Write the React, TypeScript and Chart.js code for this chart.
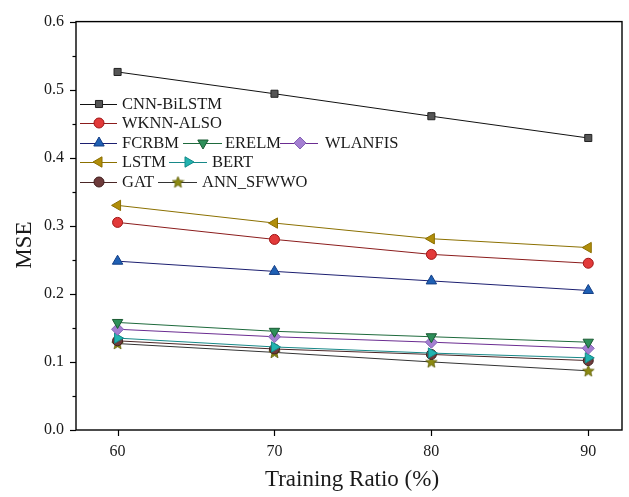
import React, { useEffect, useRef } from "react";
import { Chart, registerables } from "chart.js";
import { drawPoint } from "chart.js/helpers";

Chart.register(...registerables);

// ---------- data ----------
const ratios = [60, 70, 80, 90];
const cnnBiLstm = [0.526, 0.494, 0.461, 0.429];
const wknnAlso = [0.305, 0.280, 0.258, 0.245];
const fcrbm = [0.248, 0.233, 0.219, 0.205];
const erelm = [0.158, 0.145, 0.137, 0.129];
const wlanfis = [0.148, 0.137, 0.129, 0.120];
const lstm = [0.330, 0.304, 0.281, 0.268];
const bert = [0.135, 0.122, 0.113, 0.106];
const gat = [0.131, 0.119, 0.111, 0.102];
const annSfwwo = [0.127, 0.114, 0.100, 0.087];
const xTickValues = [60, 70, 80, 90];
const yMajorTicks = [0, 0.1, 0.2, 0.3, 0.4, 0.5, 0.6];
const seriesNames = [
  "CNN-BiLSTM",
  "WKNN-ALSO",
  "FCRBM",
  "ERELM",
  "WLANFIS",
  "LSTM",
  "BERT",
  "GAT",
  "ANN_SFWWO",
];
const xTitle = "Training Ratio (%)";
const yTitle = "MSE";

const FONT = "'Liberation Serif', 'Times New Roman', serif";

function makeStar(fill: string, stroke: string): HTMLCanvasElement {
  const c = document.createElement("canvas");
  c.width = 13;
  c.height = 13;
  const ctx = c.getContext("2d")!;
  const cx = 6.5, cy = 7, R = 6, r = 2.6;
  ctx.beginPath();
  for (let i = 0; i < 10; i++) {
    const a = -Math.PI / 2 + (i * Math.PI) / 5;
    const rad = i % 2 === 0 ? R : r;
    const px = cx + rad * Math.cos(a);
    const py = cy + rad * Math.sin(a);
    if (i === 0) ctx.moveTo(px, py);
    else ctx.lineTo(px, py);
  }
  ctx.closePath();
  ctx.fillStyle = fill;
  ctx.fill();
  ctx.lineWidth = 0.8;
  ctx.strokeStyle = stroke;
  ctx.stroke();
  return c;
}

export default function App() {
  const ref = useRef<HTMLCanvasElement | null>(null);

  useEffect(() => {
    if (!ref.current) return;
    const star = makeStar("#8c8a12", "#5a5a00");

    const styles = [
      { line: "#111111", fill: "#555555", border: "#222222", style: "rect", rot: 0, r: 5 },
      { line: "#8b1c1c", fill: "#e23a3a", border: "#a01515", style: "circle", rot: 0, r: 5 },
      { line: "#1c1f70", fill: "#1f60b4", border: "#123d85", style: "triangle", rot: 0, r: 6 },
      { line: "#1e6a3c", fill: "#2e8f5a", border: "#1a5a32", style: "triangle", rot: 180, r: 6 },
      { line: "#6a2c91", fill: "#a47fd2", border: "#8462b4", style: "rectRot", rot: 0, r: 6 },
      { line: "#8b7000", fill: "#b18e0a", border: "#8a6e00", style: "triangle", rot: 270, r: 6 },
      { line: "#178888", fill: "#22b3b0", border: "#148a88", style: "triangle", rot: 90, r: 6 },
      { line: "#4a2626", fill: "#6e3b3b", border: "#3e1c1c", style: "circle", rot: 0, r: 5 },
      { line: "#333333", fill: "#8c8a12", border: "#5a5a00", style: star as any, rot: 0, r: 6 },
    ];
    const values = [cnnBiLstm, wknnAlso, fcrbm, erelm, wlanfis, lstm, bert, gat, annSfwwo];

    const datasets = values.map((vals, i) => ({
      label: seriesNames[i],
      data: ratios.map((x, j) => ({ x, y: vals[j] })),
      borderColor: styles[i].line,
      borderWidth: 1,
      backgroundColor: styles[i].fill,
      pointBackgroundColor: styles[i].fill,
      pointBorderColor: styles[i].border,
      pointBorderWidth: 1,
      pointStyle: styles[i].style,
      pointRotation: styles[i].rot,
      pointRadius: styles[i].r,
      tension: 0,
      clip: false as any,
    }));

    // legend layout: [row y, lineStart, markerX, lineEnd, textX]
    const legendLayout = [
      [104, 80, 99, 117, 122],
      [123, 80, 99, 117, 122],
      [143, 80, 99, 117, 122],
      [143, 183, 203, 222, 225],
      [143, 280, 300, 318, 325],
      [162, 80, 99, 117, 122],
      [162, 169, 188, 207, 212],
      [182, 80, 99, 117, 122],
      [182, 158, 178, 197, 202],
    ];

    const decor = {
      id: "decor",
      afterDraw(chart: any) {
        const ctx = chart.ctx as CanvasRenderingContext2D;
        const ca = chart.chartArea;
        const ys = chart.scales.y;
        const xs = chart.scales.x;
        ctx.save();
        // frame
        ctx.strokeStyle = "#000";
        ctx.lineWidth = 1.4;
        ctx.strokeRect(ca.left, ca.top, ca.right - ca.left, ca.bottom - ca.top);
        // y ticks (major + minor)
        ctx.lineWidth = 1.2;
        for (let k = 0; k <= 12; k++) {
          const v = k * 0.05;
          const py = Math.round(ys.getPixelForValue(v)) + 0.5;
          const len = k % 2 === 0 ? 6 : 3.5;
          ctx.beginPath();
          ctx.moveTo(ca.left, py);
          ctx.lineTo(ca.left - len, py);
          ctx.stroke();
        }
        // x ticks
        xTickValues.forEach((v) => {
          const px = Math.round(xs.getPixelForValue(v)) + 0.5;
          ctx.beginPath();
          ctx.moveTo(px, ca.bottom);
          ctx.lineTo(px, ca.bottom + 6);
          ctx.stroke();
        });
        // titles
        ctx.fillStyle = "#1a1a1a";
        ctx.font = `23px ${FONT}`;
        ctx.textAlign = "center";
        ctx.textBaseline = "middle";
        ctx.fillText(xTitle, (ca.left + ca.right) / 2 + 3, 480);
        ctx.save();
        ctx.translate(25, 245);
        ctx.rotate(-Math.PI / 2);
        ctx.fillText(yTitle, 0, 0);
        ctx.restore();
        // legend
        ctx.font = `16.5px ${FONT}`;
        ctx.textAlign = "left";
        ctx.textBaseline = "middle";
        legendLayout.forEach((L, i) => {
          const [y, x0, xm, x1, xt] = L;
          const st = styles[i];
          ctx.strokeStyle = st.line;
          ctx.lineWidth = 1;
          ctx.beginPath();
          ctx.moveTo(x0, y + 0.5);
          ctx.lineTo(x1, y + 0.5);
          ctx.stroke();
          ctx.fillStyle = st.fill;
          ctx.strokeStyle = st.border;
          ctx.lineWidth = 1;
          drawPoint(ctx, { pointStyle: st.style, rotation: st.rot, radius: st.r, borderWidth: 1 } as any, xm, y);
          ctx.fillStyle = "#1a1a1a";
          ctx.fillText(seriesNames[i], xt, y + 1);
        });
        ctx.restore();
      },
    };

    const chart = new Chart(ref.current, {
      type: "line",
      data: { datasets },
      options: {
        animation: false,
        responsive: true,
        maintainAspectRatio: false,
        layout: { padding: { left: 0, top: 18, right: 7, bottom: 0 } },
        plugins: { legend: { display: false }, tooltip: { enabled: false } },
        scales: {
          x: {
            type: "linear",
            min: 57.35,
            max: 92.15,
            afterBuildTicks: (s: any) => {
              s.ticks = xTickValues.map((v) => ({ value: v }));
            },
            afterFit: (s: any) => {
              s.height = 67;
            },
            grid: { display: true, drawOnChartArea: false, drawTicks: false },
            border: { display: false },
            ticks: {
              padding: 12,
              color: "#1a1a1a",
              font: { family: FONT, size: 16 },
              maxRotation: 0,
              callback: (v: any) => String(v),
            },
          },
          y: {
            type: "linear",
            min: 0,
            max: 0.6,
            afterBuildTicks: (s: any) => {
              s.ticks = yMajorTicks.map((v) => ({ value: v }));
            },
            afterFit: (s: any) => {
              s.width = 76;
            },
            grid: { display: true, drawOnChartArea: false, drawTicks: false },
            border: { display: false },
            ticks: {
              padding: 12,
              color: "#1a1a1a",
              font: { family: FONT, size: 16 },
              callback: (v: any) => Number(v).toFixed(1),
            },
          },
        },
      },
      plugins: [decor],
    });
    return () => chart.destroy();
  }, []);

  return (
    <div style={{ position: "fixed", left: 0, top: 0, width: 629, height: 497, background: "#fff" }}>
      <canvas ref={ref} />
    </div>
  );
}
